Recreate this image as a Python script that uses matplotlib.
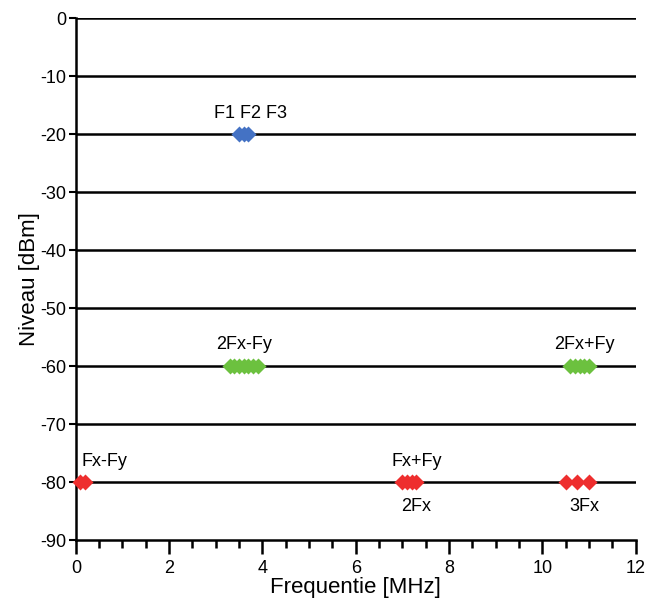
import matplotlib
matplotlib.use("Agg")
import matplotlib.pyplot as plt
from matplotlib.ticker import MultipleLocator

plt.rcParams['font.family'] = ['Liberation Sans', 'DejaVu Sans']
plt.rcParams['axes.unicode_minus'] = False

# Data (MHz, dBm)
f_fund = [3.5, 3.6, 3.7]
lvl_fund = [-20, -20, -20]
f_im3_low = [3.3, 3.4, 3.5, 3.6, 3.7, 3.8, 3.9]
lvl_im3_low = [-60] * 7
f_im3_high = [10.6, 10.7, 10.8, 10.9, 11.0]
lvl_im3_high = [-60] * 5
f_im2_diff = [0.1, 0.2]
lvl_im2_diff = [-80, -80]
f_im2_sum = [7.0, 7.1, 7.2, 7.3]
lvl_im2_sum = [-80] * 4
f_h3 = [10.5, 10.75, 11.0]
lvl_h3 = [-80] * 3

labels = [
    ("F1 F2 F3", 3.75, -16.5),
    ("2Fx-Fy", 3.6, -56.3),
    ("2Fx+Fy", 10.9, -56.3),
    ("Fx-Fy", 0.62, -76.5),
    ("Fx+Fy", 7.3, -76.5),
    ("2Fx", 7.3, -84.2),
    ("3Fx", 10.9, -84.2),
]

fig = plt.figure(figsize=(6.48, 6.03), dpi=100)
ax = fig.add_axes([0.117, 0.104, 0.864, 0.866])

for y in range(-80, 10, 10):
    ax.axhline(y, color='black', lw=1.8, zorder=1)

blue = '#4472C4'
green = '#6CC13F'
red = '#EE2E2E'
ms = 8.5
kw = dict(ms=ms, mec='none', zorder=3, clip_on=False, ls='none', marker='D')
ax.plot(f_fund, lvl_fund, color=blue, **kw)
ax.plot(f_im3_low, lvl_im3_low, color=green, **kw)
ax.plot(f_im3_high, lvl_im3_high, color=green, **kw)
ax.plot(f_im2_diff, lvl_im2_diff, color=red, **kw)
ax.plot(f_im2_sum, lvl_im2_sum, color=red, **kw)
ax.plot(f_h3, lvl_h3, color=red, **kw)

for txt, x, y in labels:
    ax.text(x, y, txt, ha='center', va='center', fontsize=13)

ax.set_xlim(0, 12)
ax.set_ylim(-90, 0)
ax.xaxis.set_major_locator(MultipleLocator(2))
ax.xaxis.set_minor_locator(MultipleLocator(0.5))
ax.yaxis.set_major_locator(MultipleLocator(10))

for s in ['top', 'right']:
    ax.spines[s].set_visible(False)
for s in ['left', 'bottom']:
    ax.spines[s].set_linewidth(1.8)

ax.tick_params(axis='x', which='major', length=10, width=1.8, labelsize=13, pad=4)
ax.tick_params(axis='x', which='minor', length=6, width=1.8)
ax.tick_params(axis='y', which='major', length=5, width=1.5, labelsize=13, pad=2)

ax.set_xlabel('Frequentie [MHz]', fontsize=16, labelpad=0.5)
ax.set_ylabel('Niveau [dBm]', fontsize=16, labelpad=0)

fig.savefig('out.png', dpi=100)
